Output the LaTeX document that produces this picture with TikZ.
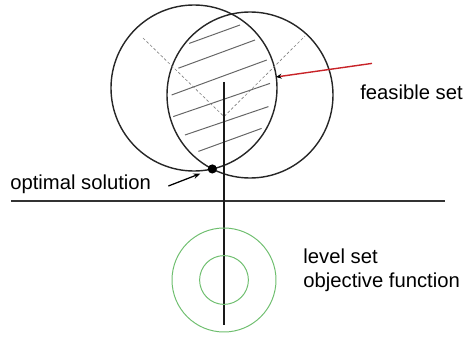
\documentclass[tikz,border=0pt]{standalone}
\usepackage{fontspec}
\setmainfont{Liberation Sans}
\usetikzlibrary{arrows.meta}
\definecolor{bordo}{RGB}{200,35,40}
\definecolor{verde}{RGB}{110,190,110}

\begin{document}
\begin{tikzpicture}[
        cerchio/.style={draw=black!85, line width=1pt},
        tratto/.style={black!60, line width=0.7pt},
        guida/.style={black!50, line width=0.45pt, dash pattern=on 2pt off 1.5pt},
        livello/.style={draw=verde, line width=0.7pt},
        etichetta/.style={font=\fontsize{14.4}{17}\selectfont, anchor=base west, inner sep=0pt},
        punto/.style={circle, fill=black, inner sep=0pt, minimum size=6.5pt},
        freccia/.style={-{Stealth[length=5pt,width=4pt]}, line width=0.9pt}
    ]
            \useasboundingbox (0,0) rectangle (11.8,8.425);
            % Vincoli
            \draw[cerchio] (4.85,6.225) circle (2.075);
            \draw[cerchio] (6.25,6.05) circle (2.075);
            % Insieme ammissibile
            \foreach \a/\b in {{(4.73,7.34)}/{(6.0,7.8)}, {(4.46,6.72)}/{(6.375,7.425)},
                               {(4.29,6.05)}/{(6.67,6.925)}, {(4.33,5.51)}/{(6.75,6.34)},
                               {(4.625,5.05)}/{(6.71,5.76)}, {(4.96,4.64)}/{(6.54,5.215)}}
                \draw[tratto] \a -- \b;
            \draw[guida] (3.575,7.475) -- (5.6,5.51) -- (7.625,7.525);
            % Assi
            \draw[black!80, line width=1.2pt] (0.275,3.4) -- (11.125,3.4);
            \draw[black!90, line width=1.1pt] (5.6,6.375) -- (5.6,0.3);
            % Insiemi di livello
            \draw[livello] (5.6,1.425) circle (1.3);
            \draw[livello] (5.6,1.425) circle (0.61);
            % Etichette
            \node[punto] (opt) at (5.308,4.201) {};
            \node[etichetta] (optlabel) at (0.25,3.69) {optimal solution};
            \node[etichetta] (feaslabel) at (9.0,5.94) {feasible set};
            \node[etichetta] (levellabel) at (7.58,1.84) {level set};
            \node[etichetta] (objlabel) at (7.58,1.24) {objective function};
            \coordinate (optcoda) at (4.21,3.775);
            \coordinate (feascoda) at (9.3,6.84);
            \coordinate (feasbordo) at (6.9,6.5);
            \draw[freccia, shorten >=0.2cm] (optcoda) -- (opt);
            \draw[bordo, line width=1pt, -{Stealth[length=4pt,width=3.5pt,color=black]}] (feascoda) -- (feasbordo);
        \end{tikzpicture}
\end{document}
